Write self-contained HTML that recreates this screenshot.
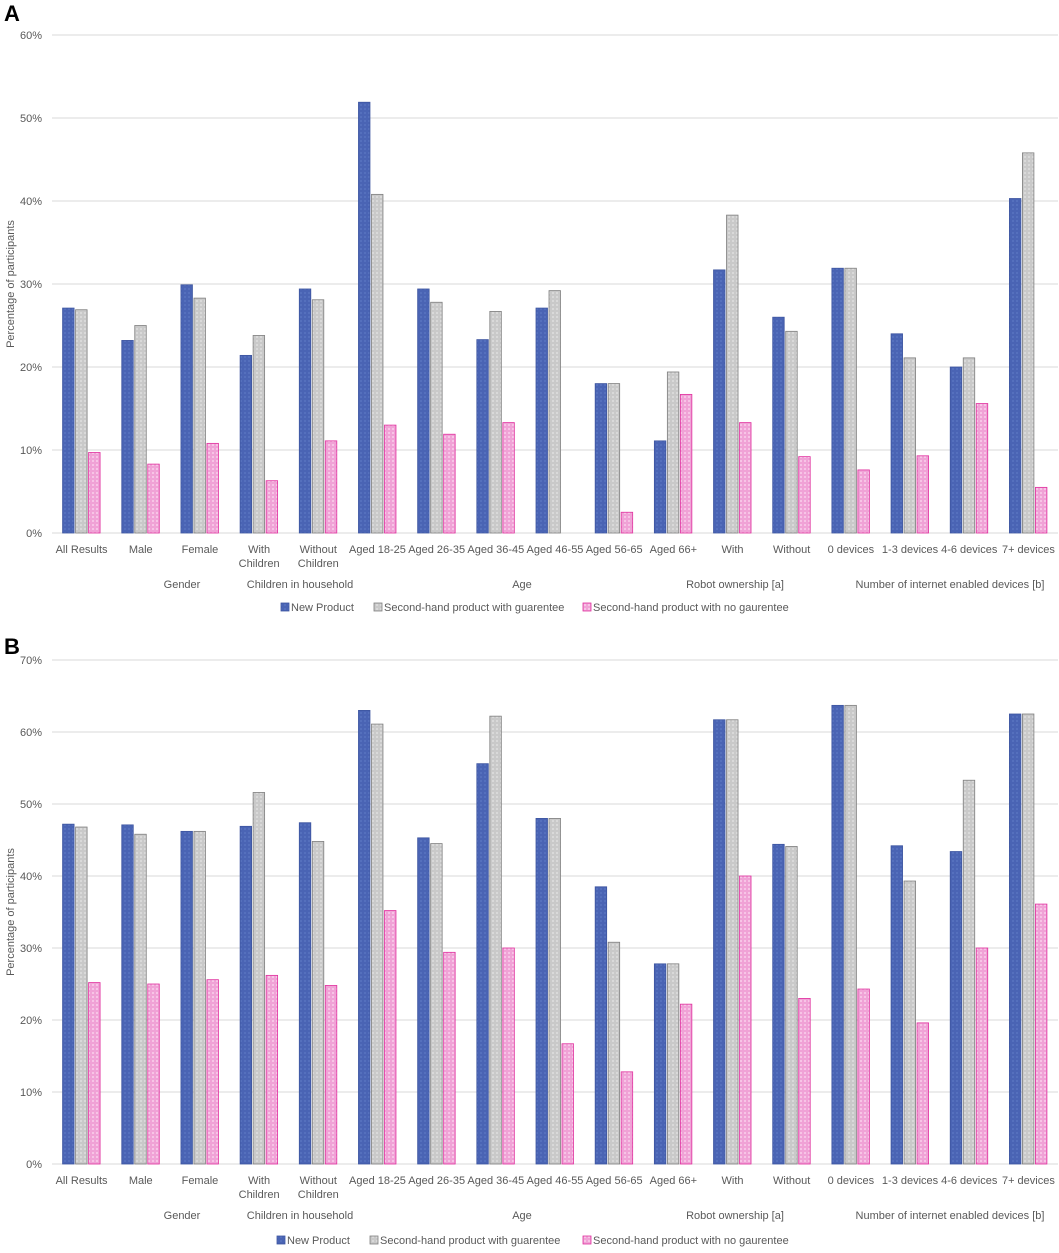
<!DOCTYPE html>
<html><head><meta charset="utf-8"><style>
body{margin:0;background:#fff;font-family:"Liberation Sans",sans-serif}
svg text{font-family:"Liberation Sans",sans-serif;fill:#595959;font-size:11px}
</style></head><body>
<svg id="svg" width="1059" height="1248" xmlns="http://www.w3.org/2000/svg">
<defs>
<pattern id="pb" width="4" height="4" patternUnits="userSpaceOnUse"><rect width="4" height="4" fill="#4a64b4"/><rect width="2" height="2" fill="#5570bd"/></pattern>
<pattern id="pg" width="4" height="4" patternUnits="userSpaceOnUse"><rect width="4" height="4" fill="#c9c9c9"/><rect width="2" height="2" fill="#d9d9d9"/></pattern>
<pattern id="pp" width="4" height="4" patternUnits="userSpaceOnUse"><rect width="4" height="4" fill="#f0a2d6"/><rect width="2" height="2" fill="#f7c4e6"/></pattern>
</defs>
</svg>
<script>
const categories=["All Results","Male","Female","With\nChildren","Without\nChildren","Aged 18-25","Aged 26-35","Aged 36-45","Aged 46-55","Aged 56-65","Aged 66+","With","Without","0 devices","1-3 devices","4-6 devices","7+ devices"];
const groups=["Gender","Children in household","Age","Robot ownership [a]","Number of internet enabled devices [b]"];
const seriesNames=["New Product","Second-hand product with guarentee","Second-hand product with no gaurentee"];
const aNew=[27.1,23.2,29.9,21.4,29.4,51.9,29.4,23.3,27.1,18,11.1,31.7,26,31.9,24,20,40.3];
const aGuar=[26.9,25,28.3,23.8,28.1,40.8,27.8,26.7,29.2,18,19.4,38.3,24.3,31.9,21.1,21.1,45.8];
const aNoGuar=[9.7,8.3,10.8,6.3,11.1,13,11.9,13.3,0,2.5,16.7,13.3,9.2,7.6,9.3,15.6,5.5];
const bNew=[47.2,47.1,46.2,46.9,47.4,63,45.3,55.6,48,38.5,27.8,61.7,44.4,63.7,44.2,43.4,62.5];
const bGuar=[46.8,45.8,46.2,51.6,44.8,61.1,44.5,62.2,48,30.8,27.8,61.7,44.1,63.7,39.3,53.3,62.5];
const bNoGuar=[25.2,25,25.6,26.2,24.8,35.2,29.4,30,16.7,12.8,22.2,40,23,24.3,19.6,30,36.1];
const aTicks=[0,10,20,30,40,50,60];
const bTicks=[0,10,20,30,40,50,60,70];

const svg=document.getElementById('svg');
const NS='http://www.w3.org/2000/svg';
function mk(tag,at,parent){const e=document.createElementNS(NS,tag);for(const k in at)e.setAttribute(k,at[k]);(parent||svg).appendChild(e);return e;}
const fills=['url(#pb)','url(#pg)','url(#pp)'];
const strokes=['#3d55a0','#7f7f7f','#e0309e'];
const gxPos=[182,300,522,735,950];

function chart(cfg){
  const L=52,R=1058,n=categories.length,step=(R-L)/n;
  const y=v=>cfg.y0-(v/cfg.max)*(cfg.y0-cfg.yTop);
  const x=i=>L+step*(i+0.5);
  const g=mk('g',{});
  
  
  const lbl=mk('text',{x:4,y:cfg.letterY,'font-size':'22','font-weight':'bold',style:'fill:#000;font-size:22px;font-weight:bold'},g);
  lbl.textContent=cfg.letter;
  
  
  cfg.ticks.forEach(t=>{
    const ln=mk('line',{x1:L,x2:R,y1:y(t),y2:y(t),stroke:'#d9d9d9','stroke-width':1},g);
    
    
    const tx=mk('text',{x:42,y:y(t)+4,'text-anchor':'end'},g);
    tx.textContent=t+'%';
    
    
  });
  const yt=mk('text',{x:0,y:0,'text-anchor':'middle',transform:`translate(14,${(cfg.y0+cfg.yTop)/2}) rotate(-90)`},g);
  yt.textContent='Percentage of participants';
  
  
  cfg.series.forEach((s,si)=>{
    s.forEach((v,i)=>{
      const bx=x(i)-19+si*13;
      const r=mk('rect',{x:bx,y:y(v),width:11.5,height:Math.max(0,y(0)-y(v)),fill:fills[si],stroke:strokes[si],'stroke-width':0.8},g);
      
      
    });
  });
  categories.forEach((c,i)=>{
    const lines=c.split('\n');
    lines.forEach((l,k)=>{
      const t=mk('text',{x:x(i),y:cfg.y0+20+k*14,'text-anchor':'middle'},g);
      t.textContent=l;
      
      
    });
  });
  groups.forEach((gname,i)=>{
    const t=mk('text',{x:gxPos[i],y:cfg.y0+55,'text-anchor':'middle'},g);
    t.textContent=gname;
    
    
  });
  const lx=cfg.legendX;
  seriesNames.forEach((nm,i)=>{
    const r=mk('rect',{x:lx[i],y:cfg.legendY-8,width:8,height:8,fill:fills[i],stroke:strokes[i],'stroke-width':0.8},g);
    
    
    const t=mk('text',{x:lx[i]+10,y:cfg.legendY},g);
    t.textContent=nm;
    
    
  });
}
chart({name:'chart-a',letter:'A',letterY:21,y0:533,yTop:35,max:60,ticks:aTicks,series:[aNew,aGuar,aNoGuar],legendY:611,legendX:[281,374,583]});
chart({name:'chart-b',letter:'B',letterY:654,y0:1164,yTop:660,max:70,ticks:bTicks,series:[bNew,bGuar,bNoGuar],legendY:1244,legendX:[277,370,583]});
</script>
</body></html>
